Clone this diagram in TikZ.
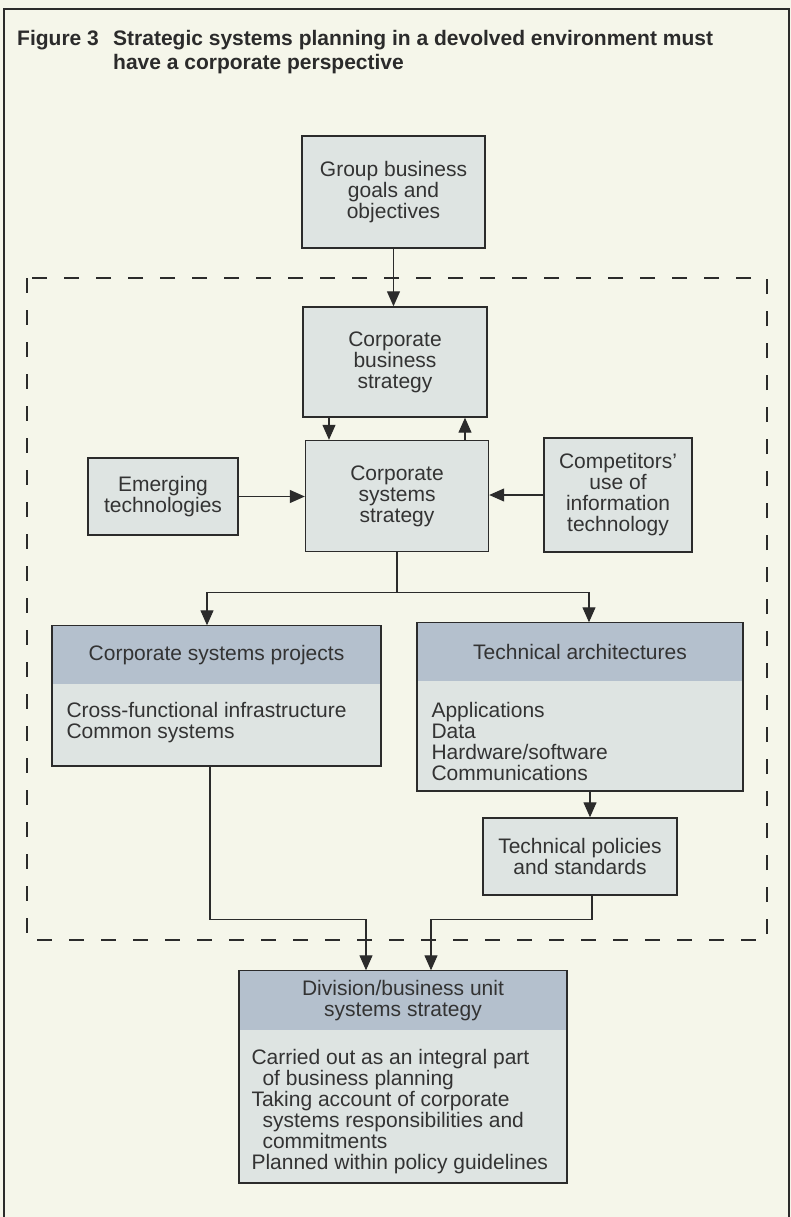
\documentclass[tikz,border=0pt]{standalone}
\usepackage{fontspec}
\setmainfont{Liberation Sans}
\usetikzlibrary{arrows.meta,calc}
\definecolor{paper}{HTML}{F5F6EA}
\definecolor{boxfill}{HTML}{DEE4E2}
\definecolor{hdrfill}{HTML}{B4C0CD}
\definecolor{ink}{HTML}{2B2B2B}
\definecolor{txt}{HTML}{333333}
\begin{document}
\begin{tikzpicture}[x=1pt,y=1pt,
  boxfont/.style={font=\fontsize{21}{21}\selectfont},
  box/.style={draw=ink, line width=1.4pt, fill=boxfill, inner sep=0pt, text=txt, align=center, boxfont},
  hdr/.style={fill=hdrfill, inner sep=0pt, text=txt, align=center, boxfont},
  body/.style={inner sep=0pt, text=txt, align=left, anchor=north west, boxfont},
  titlefont/.style={anchor=base west, inner sep=0pt, text=ink, font=\bfseries\fontsize{21}{24}\selectfont},
  conn/.style={draw=ink, line width=1.2pt},
  arr/.style={conn, -{Triangle[length=15pt,width=13pt]}},
  dashbox/.style={draw=ink, line width=2pt, dash pattern=on 15pt off 17pt},
]
\useasboundingbox (0,0) rectangle (791,-1217);
\fill[paper] (0,0) rectangle (791,-1217);
\draw[ink, line width=1.5pt] (4,-1230) -- (4,-9) -- (789,-9) -- (789,-1230);

% title
\node[titlefont] (fig) at (17,-46) {Figure 3};
\node[titlefont] (t1) at (113,-46) {Strategic systems planning in a devolved environment must};
\node[titlefont] (t2) at (113,-70) {have a corporate perspective};

% dashed corporate region
\draw[dashbox] (27,-278) rectangle (767,-940);

% simple boxes
\node[box, minimum width=183pt, minimum height=112pt] (goals) at (393.5,-192) {Group business\\goals and\\objectives};
\node[box, minimum width=184pt, minimum height=110pt] (cbs) at (395,-362) {Corporate\\business\\strategy};
\node[box, minimum width=183pt, minimum height=111pt] (css) at (397,-496) {Corporate\\systems\\strategy};
\node[box, minimum width=150pt, minimum height=77pt] (emerg) at (163,-496.5) {Emerging\\technologies};
\node[box, minimum width=148pt, minimum height=114pt] (comp) at (618,-495) {Competitors'\\use of\\information\\technology};
\node[box, minimum width=194pt, minimum height=77pt] (tp) at (580,-856.5) {Technical policies\\and standards};

% boxes with header bands
\node[box, minimum width=329pt, minimum height=140pt] (csp) at (216.5,-696) {};
\node[hdr, minimum width=327.6pt, minimum height=58pt, anchor=north] (csph) at ([yshift=-0.7pt]csp.north) {Corporate systems projects};
\node[body] (cspb) at ([xshift=15pt,yshift=-77pt]csp.north west) {Cross-functional infrastructure\\Common systems};

\node[box, minimum width=326pt, minimum height=168pt] (ta) at (580,-707) {};
\node[hdr, minimum width=324.6pt, minimum height=58pt, anchor=north] (tah) at ([yshift=-0.7pt]ta.north) {Technical architectures};
\node[body] (tab) at ([xshift=15pt,yshift=-80pt]ta.north west) {Applications\\Data\\Hardware/software\\Communications};

\node[box, minimum width=328pt, minimum height=212pt] (div) at (403,-1077) {};
\node[hdr, minimum width=326.6pt, minimum height=59pt, anchor=north] (divh) at ([yshift=-0.7pt]div.north) {Division/business unit\\systems strategy};
\node[body] (divb) at ([xshift=13pt,yshift=-79pt]div.north west) {Carried out as an integral part\\
\hspace*{11pt}of business planning\\
Taking account of corporate\\
\hspace*{11pt}systems responsibilities and\\
\hspace*{11pt}commitments\\
Planned within policy guidelines};

% connectors
\draw[arr] (goals.south) -- (goals.south |- cbs.north);
\draw[arr] ([xshift=-66pt]cbs.south) -- ([xshift=-66pt]cbs.south |- css.north);
\draw[arr] ([xshift=68pt]css.north) -- ([xshift=68pt]css.north |- cbs.south);
\draw[arr] (emerg.east) -- (emerg.east -| css.west);
\draw[arr] (comp.west) -- (comp.west -| css.east);
\coordinate (split) at ([yshift=-40pt]css.south);
\draw[conn] (css.south) -- (split);
\draw[arr] (split) -| ([xshift=-9.5pt]csp.north);
\draw[arr] (split) -| ([xshift=9pt]ta.north);
\draw[arr] ([xshift=10pt]ta.south) -- ([xshift=10pt]ta.south |- tp.north);
\draw[arr] ([xshift=-6.5pt]csp.south) -- ++(0,-153) -| ([xshift=-37pt]div.north);
\draw[arr] ([xshift=12pt]tp.south) -- ++(0,-24) -| ([xshift=28pt]div.north);
\end{tikzpicture}
\end{document}
